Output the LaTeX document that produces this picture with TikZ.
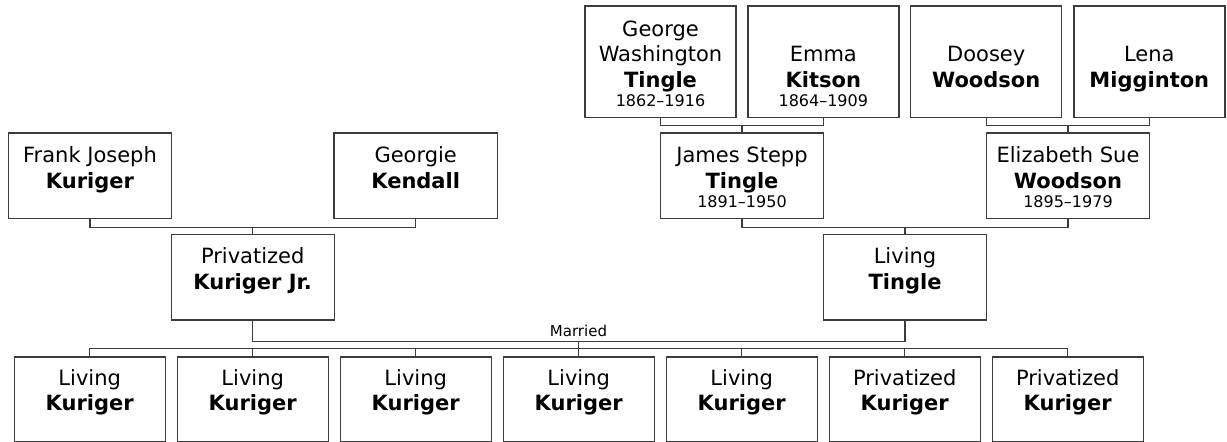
\documentclass[tikz,border=0pt]{standalone}
\usepackage{fontspec}
\setmainfont{DejaVu Sans}
\usetikzlibrary{calc}
\definecolor{lc}{RGB}{60,60,60}
\tikzset{
  pbox/.style={draw=lc, line width=1.4pt, fill=white, inner sep=0pt},
  conn/.style={draw=lc, line width=1.4pt},
  given/.style={anchor=base, inner sep=0pt, font=\fontsize{21}{25}\selectfont},
  sur/.style={anchor=base, inner sep=0pt, font=\fontsize{21}{25}\selectfont\bfseries},
  dates/.style={anchor=base, inner sep=0pt, font=\fontsize{16}{19}\selectfont},
  marr/.style={anchor=base, inner sep=0pt, font=\fontsize{15}{18}\selectfont},
}
% #1 id, #2 centre x, #3 top, #4 bottom, #5 width
\newcommand{\pbx}[5]{\node[pbox, minimum width=#5pt, minimum height={(#4)-(#3)}] (#1) at (#2,{((#3)+(#4))/2}) {};}
% #1 box id, #2 suffix, #3 offset above bottom, #4 style, #5 text
\newcommand{\pln}[5]{\node[#4] (#1-#2) at ($(#1.south)+(0,-#3)$) {#5};}
\begin{document}
\begin{tikzpicture}[x=1pt,y=-1pt]
\useasboundingbox (0,0) rectangle (1227,442);

% top row
\pbx{gwt}{660.5}{6}{117.7}{151}
\pbx{emma}{823.3}{6}{117.7}{151}
\pbx{doosey}{986.2}{6}{117.7}{151}
\pbx{lena}{1149.3}{6}{117.7}{151}
% middle row
\pbx{frank}{90}{133}{218.7}{163.5}
\pbx{georgie}{415.7}{133}{218.7}{163.5}
\pbx{james}{742}{133}{218.7}{163}
\pbx{eliz}{1068}{133}{218.7}{163}
% parents
\pbx{priv}{252.7}{234.3}{320}{163}
\pbx{ltingle}{905}{234.3}{320}{163}
% children
\pbx{c1}{89.7}{357}{441.3}{151}
\pbx{c2}{252.7}{357}{441.3}{151}
\pbx{c3}{415.7}{357}{441.3}{151}
\pbx{c4}{578.7}{357}{441.3}{151}
\pbx{c5}{741.7}{357}{441.3}{151}
\pbx{c6}{904.7}{357}{441.3}{151}
\pbx{c7}{1067.7}{357}{441.3}{151}

% texts
\pln{gwt}{g2}{82.3}{given}{George}
\pln{gwt}{g1}{56.8}{given}{Washington}
\pln{gwt}{s}{31.3}{sur}{Tingle}
\pln{gwt}{d}{11.7}{dates}{1862–1916}
\pln{emma}{g1}{56.8}{given}{Emma}
\pln{emma}{s}{31.3}{sur}{Kitson}
\pln{emma}{d}{11.7}{dates}{1864–1909}
\pln{doosey}{g1}{56.8}{given}{Doosey}
\pln{doosey}{s}{31.3}{sur}{Woodson}
\pln{lena}{g1}{56.8}{given}{Lena}
\pln{lena}{s}{31.3}{sur}{Migginton}

\pln{frank}{g1}{56.8}{given}{Frank Joseph}
\pln{frank}{s}{31.3}{sur}{Kuriger}
\pln{georgie}{g1}{56.8}{given}{Georgie}
\pln{georgie}{s}{31.3}{sur}{Kendall}
\pln{james}{g1}{56.8}{given}{James Stepp}
\pln{james}{s}{31.3}{sur}{Tingle}
\pln{james}{d}{11.7}{dates}{1891–1950}
\pln{eliz}{g1}{56.8}{given}{Elizabeth Sue}
\pln{eliz}{s}{31.3}{sur}{Woodson}
\pln{eliz}{d}{11.7}{dates}{1895–1979}

\pln{priv}{g1}{56.8}{given}{Privatized}
\pln{priv}{s}{31.3}{sur}{Kuriger Jr.}
\pln{ltingle}{g1}{56.8}{given}{Living}
\pln{ltingle}{s}{31.3}{sur}{Tingle}

\foreach \k/\g in {c1/Living,c2/Living,c3/Living,c4/Living,c5/Living,c6/Privatized,c7/Privatized}{
  \pln{\k}{g1}{56.8}{given}{\g}
  \pln{\k}{s}{31.3}{sur}{Kuriger}
}

% connectors
\draw[conn] (gwt.south) -- ++(0,7.3) coordinate (gebar) -| (emma.south);
\draw[conn] (james.north) -- (james.north |- gebar);
\draw[conn] (doosey.south) -- ++(0,7.3) coordinate (dlbar) -| (lena.south);
\draw[conn] (eliz.north) -- (eliz.north |- dlbar);
\draw[conn] (frank.south) -- ++(0,8) coordinate (fgbar) -| (georgie.south);
\draw[conn] (priv.north) -- (priv.north |- fgbar);
\draw[conn] (james.south) -- ++(0,8) coordinate (jebar) -| (eliz.south);
\draw[conn] (ltingle.north) -- (ltingle.north |- jebar);
\draw[conn] (priv.south) -- ++(0,21) coordinate (mline) -| (ltingle.south);
\node[marr] (married) at (578.5,336.7) {Married};
\draw[conn] (c1.north) -- ++(0,-8) coordinate (cbar) -| (c7.north);
\foreach \k in {c2,c3,c5,c6}{
  \draw[conn] (\k.north) -- (\k.north |- cbar);
}
\draw[conn] (c4.north) -- (c4.north |- mline);
\end{tikzpicture}
\end{document}
